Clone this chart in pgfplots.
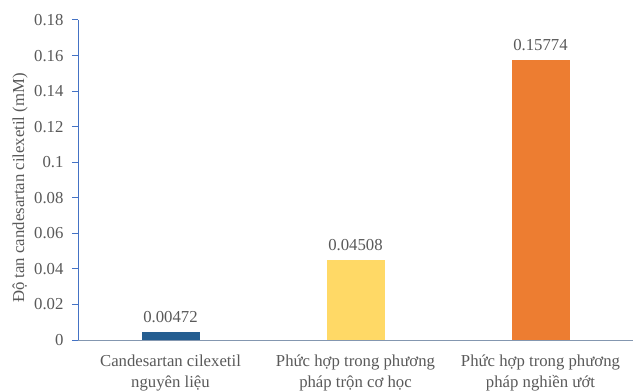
\documentclass[border=0pt]{standalone}
\usepackage{pgfplots}
\pgfplotsset{compat=1.18}
\usepackage{fontspec}
\setmainfont{Liberation Serif}
\definecolor{txt}{HTML}{595959}
\definecolor{yaxis}{HTML}{4472C4}
\definecolor{xaxis}{HTML}{8497B0}
\definecolor{barA}{HTML}{255E91}
\definecolor{barB}{HTML}{FFD966}
\definecolor{barC}{HTML}{ED7D31}
\newcommand{\lbl}{\fontsize{16.8}{21}\selectfont}
\begin{document}
\begin{tikzpicture}[x=1bp,y=1bp]
\useasboundingbox (-78,-50) rectangle (555,340);
\begin{axis}[
  scale only axis, width=555bp, height=320bp,
  xmin=-0.5, xmax=2.5, ymin=0, ymax=0.18,
  /pgf/number format/assume math mode=true,
  axis lines*=left,
  x axis line style={draw=xaxis, line width=0.8bp},
  y axis line style={draw=yaxis, line width=1bp},
  xtick={0,1,2},
  xticklabels={Candesartan cilexetil\\nguyên liệu,
               Phức hợp trong phương\\pháp trộn cơ học,
               Phức hợp trong phương\\pháp nghiền ướt},
  xtick style={draw=none},
  xticklabel style={align=center, font=\lbl, text=txt, yshift=-5bp},
  ytick={0,0.02,0.04,0.06,0.08,0.1,0.12,0.14,0.16,0.18},
  yticklabels={0,0.02,0.04,0.06,0.08,0.1,0.12,0.14,0.16,0.18},
  ytick style={draw=yaxis, line width=1bp},
  tick align=outside, major tick length=6bp,
  yticklabel style={font=\lbl, text=txt, xshift=-5bp},
  ylabel={Độ tan candesartan cilexetil (mM)},
  ylabel style={at={(axis description cs:-0.1045,0.475)}, anchor=center, font=\lbl, text=txt},
  ybar, bar width=58bp, bar shift=0pt,
  nodes near coords,
  point meta=explicit symbolic,
  every node near coord/.style={anchor=south, inner sep=0pt, yshift=9bp, font=\lbl, text=txt},
  clip=false,
]
\addplot[draw=none, fill=barA] coordinates {(0,0.00472) [0.00472]};
\addplot[draw=none, fill=barB] coordinates {(1,0.04508) [0.04508]};
\addplot[draw=none, fill=barC] coordinates {(2,0.15774) [0.15774]};
\end{axis}
\end{tikzpicture}
\end{document}
